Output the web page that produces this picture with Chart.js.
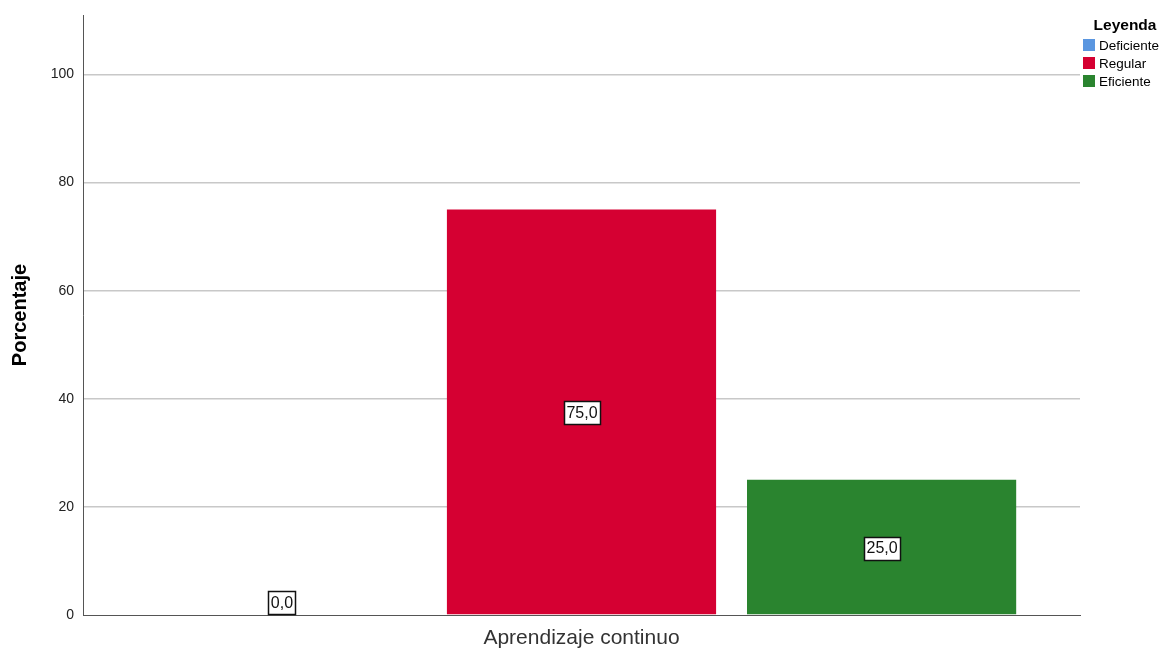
<!DOCTYPE html>
<html>
<head>
<meta charset="utf-8">
<script src="https://cdn.jsdelivr.net/npm/chart.js@4"></script>
<style>
  html, body { margin: 0; padding: 0; background: #fff; }
  #wrap { width: 1168px; height: 648px; position: relative; }
</style>
</head>
<body>
<div id="wrap"><canvas id="c" width="1168" height="648"></canvas></div>
<script>
// Distribution of levels for "Aprendizaje continuo" (percentages)
const categories = ['Aprendizaje continuo'];
const seriesNames = ['Deficiente', 'Regular', 'Eficiente'];
const deficiente = [0.0];
const regular = [75.0];
const eficiente = [25.0];
const yTicks = [0, 20, 40, 60, 80, 100];

const colors = ['#5a96e0', '#d50032', '#2a842f'];
const seriesValues = [deficiente, regular, eficiente];
const FONT = '"Liberation Sans", Arial, sans-serif';

const datasets = seriesNames.map((name, i) => ({
  label: name,
  data: seriesValues[i],
  backgroundColor: colors[i],
  borderColor: colors[i],
  borderWidth: 0,
  categoryPercentage: 0.903,
  barPercentage: 0.897
}));

// Boxed value labels centred in each bar (resting on the baseline when the bar is empty)
const valueLabels = {
  id: 'valueLabels',
  afterDatasetsDraw(chart) {
    const ctx = chart.ctx;
    ctx.save();
    ctx.font = '16px ' + FONT;
    ctx.textAlign = 'center';
    ctx.textBaseline = 'middle';
    chart.data.datasets.forEach((ds, di) => {
      const meta = chart.getDatasetMeta(di);
      meta.data.forEach((bar, idx) => {
        const v = ds.data[idx];
        const txt = v.toFixed(1).replace('.', ',');
        const w = Math.round(ctx.measureText(txt).width) + 5;
        const h = 23;
        let cy = (bar.y + bar.base) / 2 + 1;
        if (bar.base - bar.y < h + 4) cy = bar.base - h / 2 - 1;
        const x0 = Math.round(bar.x - w / 2) + 0.5;
        const y0 = Math.round(cy - h / 2) + 0.5;
        ctx.fillStyle = '#ffffff';
        ctx.fillRect(x0, y0, w, h);
        ctx.strokeStyle = '#111111';
        ctx.lineWidth = 1.5;
        ctx.strokeRect(x0, y0, w, h);
        ctx.fillStyle = '#111111';
        ctx.fillText(txt, bar.x + 0.5, cy + 1);
      });
    });
    ctx.restore();
  }
};

// Legend block in the top-right corner
const cornerLegend = {
  id: 'cornerLegend',
  afterDraw(chart) {
    const ctx = chart.ctx;
    ctx.save();
    ctx.fillStyle = '#000';
    ctx.textAlign = 'center';
    ctx.textBaseline = 'middle';
    ctx.font = 'bold 15.5px ' + FONT;
    ctx.fillText('Leyenda', 1125, 26);
    ctx.font = '13.5px ' + FONT;
    ctx.textAlign = 'left';
    seriesNames.forEach((name, i) => {
      const cy = 45 + i * 18;
      ctx.fillStyle = colors[i];
      ctx.fillRect(1083, cy - 6, 12, 12);
      ctx.fillStyle = '#000';
      ctx.fillText(name, 1099, cy + 1);
    });
    ctx.restore();
  }
};

new Chart(document.getElementById('c'), {
  type: 'bar',
  data: { labels: categories, datasets },
  plugins: [valueLabels, cornerLegend],
  options: {
    responsive: false,
    animation: false,
    devicePixelRatio: 1,
    layout: { padding: { top: 15, right: 88, left: 0, bottom: 0 } },
    plugins: {
      tooltip: { enabled: false },
      legend: { display: false }
    },
    scales: {
      x: {
        afterFit(axis) { axis.height = 33; },
        grid: { display: false, drawTicks: false },
        border: { color: '#555', width: 1 },
        ticks: {
          color: '#333',
          padding: 11,
          font: { family: FONT, size: 21 }
        }
      },
      y: {
        min: 0,
        max: 111,
        afterFit(axis) { axis.width = 83; axis.paddingTop = 0; axis.paddingBottom = 0; },
        afterBuildTicks(axis) { axis.ticks = yTicks.map(v => ({ value: v })); },
        grid: {
          color: (c) => c.tick && c.tick.value === 0 ? 'rgba(0,0,0,0)' : '#c8c8c8',
          lineWidth: 1.5,
          drawTicks: false
        },
        border: { color: '#555', width: 1 },
        ticks: {
          color: '#222',
          padding: 9,
          font: { family: FONT, size: 14 }
        },
        title: {
          display: true,
          text: 'Porcentaje',
          color: '#000',
          padding: { top: 8, bottom: 0 },
          font: { family: FONT, size: 20, weight: 'bold' }
        }
      }
    }
  }
});
</script>
</body>
</html>
